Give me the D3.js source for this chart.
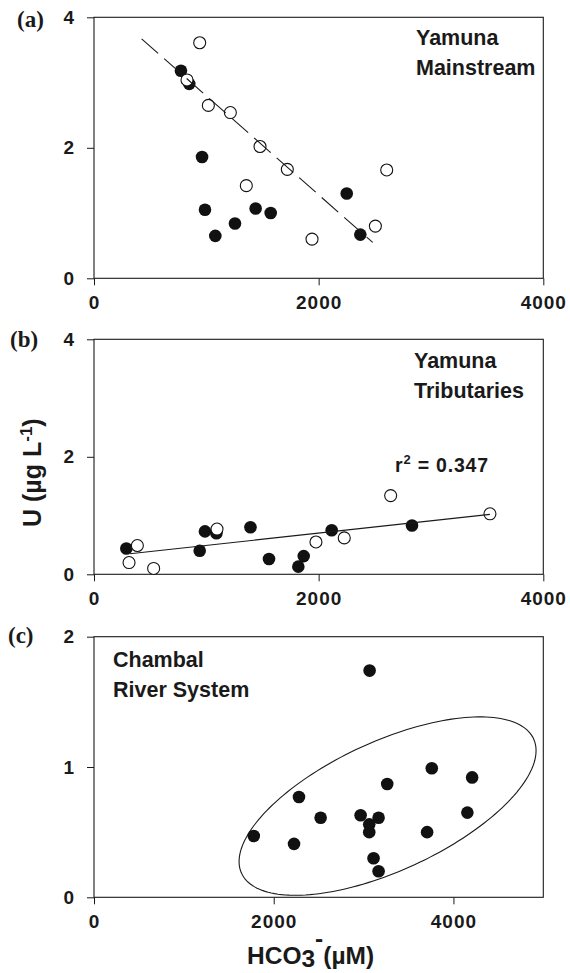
<!DOCTYPE html>
<html>
<head>
<meta charset="utf-8">
<script src="https://cdn.jsdelivr.net/npm/d3@7"></script>
<style>
    body { margin: 0; background: #fff; }
    svg { display: block; }
    .tick text { font-family: "Liberation Sans", Arial, sans-serif; font-weight: bold; }
</style>
</head>
<body>
<script>
// (a) Yamuna mainstream
var mainFilledX = [774, 848, 962, 988, 1080, 1255, 1439, 1573, 2250, 2371];
var mainFilledU = [3.18, 2.98, 1.86, 1.05, 0.65, 0.84, 1.07, 1.00, 1.30, 0.67];
var mainOpenX = [941, 828, 1018, 1214, 1478, 1356, 1721, 2606, 1941, 2505];
var mainOpenU = [3.61, 3.04, 2.65, 2.54, 2.02, 1.42, 1.67, 1.66, 0.60, 0.80];
var mainTrendX = [424, 2481];
var mainTrendU = [3.67, 0.55];

// (b) Yamuna tributaries
var tribFilledX = [288, 988, 941, 1090, 1393, 1558, 1819, 1867, 2116, 2831];
var tribFilledU = [0.44, 0.73, 0.40, 0.70, 0.80, 0.26, 0.13, 0.31, 0.75, 0.83];
var tribOpenX = [386, 312, 531, 1095, 1976, 2228, 2641, 3525];
var tribOpenU = [0.49, 0.20, 0.10, 0.77, 0.55, 0.62, 1.34, 1.03];
var tribTrendX = [320, 3525];
var tribTrendU = [0.35, 1.02];

// (c) Chambal river system
var chambalX = [3067, 3759, 4208, 3263, 2281, 2522, 2967, 3167, 3063, 3063, 4155, 3707, 1778, 2226, 3111, 3167];
var chambalU = [1.74, 0.99, 0.92, 0.87, 0.77, 0.61, 0.63, 0.61, 0.56, 0.50, 0.65, 0.50, 0.47, 0.41, 0.30, 0.20];
// ellipse round the chambal cloud: centre, major and minor half-axis (data units)
var ellipseCentre = [3267, 0.70];
var ellipseMajor = [1625, 0.516];
var ellipseMinor = [300, -0.450];

var xTicksAB = [0, 2000, 4000];
var yTicksAB = [0, 2, 4];
var xTicksC = [0, 2000, 4000];
var yTicksC = [0, 1, 2];

var ink = "#1a1a1a";
var sansBold = "'Liberation Sans', Arial, sans-serif";

var svg = d3.select("body").append("svg")
    .attr("width", 570)
    .attr("height", 973);

function zip(xs, ys) {
    return xs.map(function (d, i) { return {x: d, u: ys[i]}; });
}

function drawPanel(p) {
    var x = d3.scaleLinear().domain(p.xDomain).range([94, 543.3]);
    var y = d3.scaleLinear().domain(p.yDomain).range([p.bottom, p.top]);
    var g = svg.append("g");

    g.append("g")
        .attr("transform", "translate(0," + p.bottom + ")")
        .call(d3.axisBottom(x).tickValues(p.xTicks).tickSize(7).tickSizeOuter(0).tickPadding(10).tickFormat(d3.format("d")))
        .call(function (a) { a.select(".domain").remove(); })
        .attr("font-size", 19)
        .attr("font-family", null)
        .call(function (a) {
            a.selectAll("line").attr("stroke", ink);
            a.selectAll("text").attr("fill", ink).attr("letter-spacing", "1px");
        });

    g.append("g")
        .attr("transform", "translate(94,0)")
        .call(d3.axisLeft(y).tickValues(p.yTicks).tickSize(7).tickSizeOuter(0).tickPadding(13).tickFormat(d3.format("d")))
        .call(function (a) { a.select(".domain").remove(); })
        .attr("font-size", 19)
        .attr("font-family", null)
        .call(function (a) {
            a.selectAll("line").attr("stroke", ink);
            a.selectAll("text").attr("fill", ink);
        });

    g.append("rect")
        .attr("x", x.range()[0])
        .attr("y", p.top)
        .attr("width", x.range()[1] - x.range()[0])
        .attr("height", p.bottom - p.top)
        .attr("fill", "none")
        .attr("stroke", ink)
        .attr("stroke-width", 1.1);

    g.append("text")
        .attr("x", p.tagX)
        .attr("y", p.tagY)
        .attr("font-family", "'Liberation Serif', 'Times New Roman', serif")
        .attr("font-weight", "bold")
        .attr("font-size", 23)
        .attr("fill", ink)
        .text(p.tag);

    var note = g.append("text")
        .attr("font-family", sansBold)
        .attr("font-weight", "bold")
        .attr("font-size", 21.5)
        .attr("fill", ink);
    p.note.forEach(function (line, i) {
        note.append("tspan")
            .attr("x", p.noteX)
            .attr("y", p.noteY + i * 30)
            .text(line);
    });

    return {g: g, x: x, y: y};
}

function drawFilled(panel, data) {
    panel.g.selectAll(null)
        .data(data)
        .enter().append("circle")
        .attr("cx", function (d) { return panel.x(d.x); })
        .attr("cy", function (d) { return panel.y(d.u); })
        .attr("r", 6.3)
        .attr("fill", "#111");
}

function drawOpen(panel, data) {
    panel.g.selectAll(null)
        .data(data)
        .enter().append("circle")
        .attr("cx", function (d) { return panel.x(d.x); })
        .attr("cy", function (d) { return panel.y(d.u); })
        .attr("r", 6)
        .attr("fill", "#fff")
        .attr("stroke", "#111")
        .attr("stroke-width", 1.1);
}

function drawTrend(panel, data, dash) {
    var line = d3.line()
        .x(function (d) { return panel.x(d.x); })
        .y(function (d) { return panel.y(d.u); });
    panel.g.append("path")
        .datum(data)
        .attr("d", line)
        .attr("fill", "none")
        .attr("stroke", ink)
        .attr("stroke-width", 1.1)
        .attr("stroke-dasharray", dash);
}

// (a)
var pa = drawPanel({
    top: 17.3, bottom: 278.3, xDomain: [0, 4000], yDomain: [0, 4],
    xTicks: xTicksAB, yTicks: yTicksAB,
    tag: "(a)", tagX: 17, tagY: 27,
    note: ["Yamuna", "Mainstream"], noteX: 416, noteY: 45
});
drawFilled(pa, zip(mainFilledX, mainFilledU));
drawOpen(pa, zip(mainOpenX, mainOpenU));
drawTrend(pa, zip(mainTrendX, mainTrendU), "22,8");

// (b)
var pb = drawPanel({
    top: 339.3, bottom: 574.3, xDomain: [0, 4000], yDomain: [0, 4],
    xTicks: xTicksAB, yTicks: yTicksAB,
    tag: "(b)", tagX: 10, tagY: 347,
    note: ["Yamuna", "Tributaries"], noteX: 414, noteY: 368.3
});
drawFilled(pb, zip(tribFilledX, tribFilledU));
drawOpen(pb, zip(tribOpenX, tribOpenU));
drawTrend(pb, zip(tribTrendX, tribTrendU), null);

var r2 = pb.g.append("text")
    .attr("x", 395)
    .attr("y", 471.7)
    .attr("font-family", sansBold)
    .attr("font-weight", "bold")
    .attr("font-size", 19.5)
    .attr("letter-spacing", "0.8px")
    .attr("fill", ink);
r2.append("tspan").text("r");
r2.append("tspan").attr("dy", -8).attr("font-size", 13).text("2");
r2.append("tspan").attr("dy", 8).text(" = 0.347");

// (c)
var pc = drawPanel({
    top: 636.7, bottom: 897.3, xDomain: [0, 5000], yDomain: [0, 2],
    xTicks: xTicksC, yTicks: yTicksC,
    tag: "(c)", tagX: 8, tagY: 643,
    note: ["Chambal", "River System"], noteX: 113, noteY: 666.7
});

var ellipsePts = d3.range(0, 2 * Math.PI, Math.PI / 90).map(function (t) {
    return {
        x: ellipseCentre[0] + Math.cos(t) * ellipseMajor[0] + Math.sin(t) * ellipseMinor[0],
        u: ellipseCentre[1] + Math.cos(t) * ellipseMajor[1] + Math.sin(t) * ellipseMinor[1]
    };
});
pc.g.append("path")
    .datum(ellipsePts)
    .attr("d", d3.line()
        .x(function (d) { return pc.x(d.x); })
        .y(function (d) { return pc.y(d.u); })
        .curve(d3.curveLinearClosed))
    .attr("fill", "none")
    .attr("stroke", ink)
    .attr("stroke-width", 1.1);
drawFilled(pc, zip(chambalX, chambalU));

// axis titles
var yTitle = svg.append("text")
    .attr("transform", "translate(41,527) rotate(-90)")
    .attr("font-family", sansBold)
    .attr("font-weight", "bold")
    .attr("font-size", 25)
    .attr("fill", ink);
yTitle.append("tspan").text("U (µg L");
yTitle.append("tspan").attr("dy", -9).attr("font-size", 17).text("-1");
yTitle.append("tspan").attr("dy", 9).text(")");

var xTitle = svg.append("text")
    .attr("x", 247)
    .attr("y", 964)
    .attr("font-family", sansBold)
    .attr("font-weight", "bold")
    .attr("font-size", 24.5)
    .attr("fill", ink);
xTitle.append("tspan").text("HCO");
xTitle.append("tspan").attr("dy", 3).text("3");
xTitle.append("tspan").attr("dy", -20).text("-");
xTitle.append("tspan").attr("dy", 17).text("(µM)");
</script>
</body>
</html>
